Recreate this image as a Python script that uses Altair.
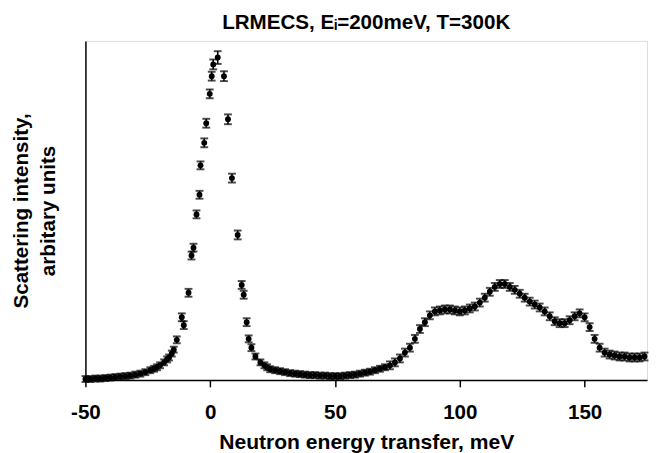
import altair as alt
import pandas as pd

# Energy transfer (meV) and intensity (arbitrary units)
tail_E = [-50, -48, -46, -44, -42, -40, -38, -36, -34, -32, -30, -28, -26, -24, -22.5]
tail_I = [1, 1, 1.5, 1.5, 2, 2.5, 3, 3.5, 4, 4.5, 5.5, 6.5, 8, 10, 11.5]
tail_err = 3

peak_E = [-21.3, -20.1, -18.5, -17.3, -16.5, -15.4, -14.6, -13.4, -11.4, -10.6,
          -8.7, -7.5, -6.7, -5.5, -4.3, -3.9, -2.4, -1.6, -0.2, 0.6,
          1.2, 3.0, 5.5, 7.1, 8.7, 11.0, 12.6, 13.4, 14.6, 15.4,
          16.5, 18.1, 20.1, 21.7, 22.8]
peak_I = [13, 15, 18, 21, 23, 27, 31, 41, 64, 56,
          89, 127, 135, 169, 189, 219, 242, 262, 292, 310,
          322, 329, 310, 266, 206, 148, 97, 87, 59, 42,
          33, 24, 18, 15, 13]
peak_err = [3, 3, 3, 3, 3, 3, 3, 3.5, 4, 4,
            4, 4, 4, 4, 4, 4, 4.5, 4.5, 4.5, 4.5,
            5, 6.5, 5, 5, 4.5, 4.5, 4, 4, 4, 3.5,
            3.5, 3, 3, 3, 3]

mid_E = [24, 26, 28, 30, 32, 34, 36, 38, 40, 42, 44, 46, 48, 50, 52, 54, 56, 58,
         60, 62, 64, 66, 68, 70]
mid_I = [11, 10, 9, 8, 7, 6.5, 6, 5.5, 5, 5, 4.5, 4.5, 4, 4, 4, 4.5, 5, 5.5,
         6.5, 7.5, 8.5, 10, 11.5, 13]
mid_err = 3

right_E = [72, 74, 76, 78, 80, 82, 84, 86, 88, 90, 92, 94, 96, 98, 100,
           102, 104, 106, 108, 110, 112, 114, 116, 118, 120, 122, 124, 126, 128, 130,
           132, 134, 136, 138, 140, 142, 144, 146, 148, 150, 152, 154, 156, 158, 160,
           162, 164, 166, 168, 170, 172, 174]
right_I = [15, 18, 22, 28, 33, 42, 52, 59, 66, 70, 71, 72, 72, 71, 70,
           71, 73, 75, 79, 84, 90, 95, 98, 98, 95, 92, 88, 84, 80, 77,
           74, 70, 65, 60, 58, 58, 61, 65, 68, 64, 54, 42, 33, 28, 26,
           25, 24, 24, 23, 23, 23, 24]
right_err = 4

x_ticks = [-50, 0, 50, 100, 150]

rows = []
for E, I in zip(tail_E, tail_I):
    rows.append((E, I, tail_err))
for E, I, e in zip(peak_E, peak_I, peak_err):
    rows.append((E, I, e))
for E, I in zip(mid_E, mid_I):
    rows.append((E, I, mid_err))
for E, I in zip(right_E, right_I):
    rows.append((E, I, right_err))
df = pd.DataFrame(rows, columns=["E", "I", "err"])
df["lo"] = df["I"] - df["err"]
df["hi"] = df["I"] + df["err"]

FONT = "Liberation Sans"

xenc = alt.X("E:Q",
             scale=alt.Scale(domain=[-50, 175], nice=False, zero=False),
             axis=alt.Axis(values=x_ticks, grid=False, domainColor="black", domainWidth=1.5,
                           tickColor="black", tickWidth=1.5, tickSize=7,
                           labelExpr="'' + datum.value", labelFlush=False,
                           labelFont=FONT, labelFontSize=21, labelFontWeight="bold",
                           labelColor="black", labelPadding=15,
                           title="Neutron energy transfer, meV", titleFont=FONT,
                           titleFontSize=21.5, titleFontWeight="bold", titleColor="black",
                           titlePadding=10))
yscale = alt.Scale(domain=[0, 346], nice=False)
yaxis = alt.Axis(labels=False, ticks=False, grid=False, domainColor="black", domainWidth=1.5,
                 title=["Scattering intensity,", "arbitary units"], titleFont=FONT,
                 titleFontSize=21, titleFontWeight="bold", titleColor="black",
                 titleLineHeight=27, titlePadding=28)

base = alt.Chart(df)
bars = base.mark_rule(color="black", strokeWidth=1.6).encode(
    x=xenc, y=alt.Y("lo:Q", scale=yscale, axis=yaxis), y2="hi:Q")
cap_hi = base.mark_tick(color="black", thickness=2, size=8, orient="horizontal").encode(
    x="E:Q", y=alt.Y("hi:Q", scale=yscale))
cap_lo = base.mark_tick(color="black", thickness=2, size=8, orient="horizontal").encode(
    x="E:Q", y=alt.Y("lo:Q", scale=yscale))
pts = base.mark_point(filled=True, color="black", size=36, opacity=1, shape="circle").encode(
    x="E:Q", y=alt.Y("I:Q", scale=yscale))

chart = alt.layer(bars, cap_hi, cap_lo, pts).properties(
    width=573, height=346,
    title=alt.TitleParams("LRMECS, Eᵢ=200meV, T=300K", font=FONT, fontSize=21,
                          fontWeight="bold", color="black", offset=8),
    padding={"left": 3, "top": 0, "right": 0, "bottom": 0},
).configure_view(stroke=None).configure(background="white")

chart.save("out.html", embed_options={"renderer": "svg", "actions": False})
